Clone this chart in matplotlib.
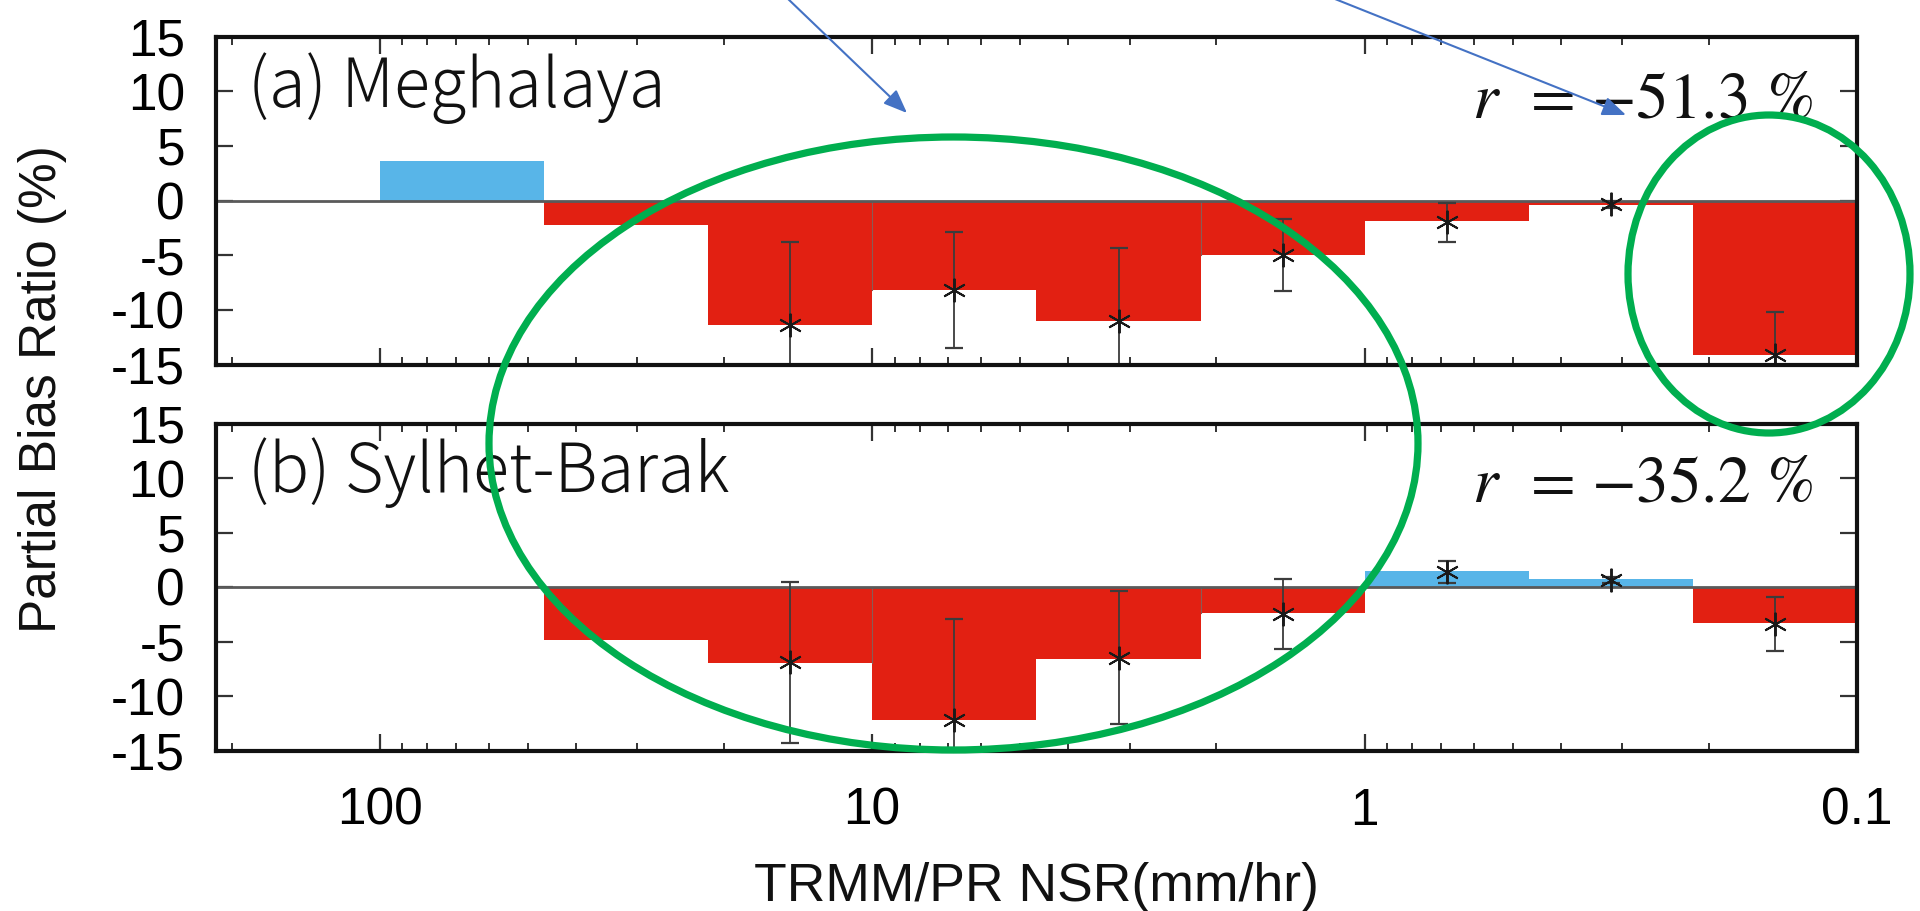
import numpy as np
import matplotlib
matplotlib.use("Agg")
import matplotlib.pyplot as plt
from matplotlib.patches import Ellipse, FancyArrowPatch
from matplotlib.ticker import FixedLocator, LogLocator, NullFormatter

# ---------------- data ----------------
bin_edges = [100, 46.4, 21.5, 10, 4.64, 2.15, 1.0, 0.464, 0.215, 0.1]

meg_bar = [3.6, -2.2, -11.4, -8.2, -11.0, -5.0, -1.9, -0.45, -14.1]
meg_pt = [np.nan, np.nan, -11.4, -8.2, -11.0, -5.0, -2.0, -0.35, -14.1]
meg_err = [np.nan, np.nan, 7.6, 5.3, 6.7, 3.3, 1.8, 0.3, 3.9]

syl_bar = [0.0, -4.9, -7.0, -12.2, -6.6, -2.4, 1.5, 0.7, -3.3]
syl_pt = [np.nan, np.nan, -6.9, -12.2, -6.5, -2.5, 1.4, 0.65, -3.4]
syl_err = [np.nan, np.nan, 7.4, 9.3, 6.1, 3.2, 1.0, 0.3, 2.5]

panel_titles = ["(a) Meghalaya", "(b) Sylhet-Barak"]
r_texts = ["$r$  = \u221251.3 %", "$r$  = \u221235.2 %"]

xticks = [100, 10, 1, 0.1]
xticklabels = ["100", "10", "1", "0.1"]
yticks = [-15, -10, -5, 0, 5, 10, 15]
yticklabels = ["-15", "-10", "-5", "0", "5", "10", "15"]

sep_edges = [3, 5]  # bin-edge indices where a faint separator is visible

# ---------------- style ----------------
plt.rcParams["font.family"] = ["Liberation Sans", "DejaVu Sans"]
plt.rcParams["mathtext.fontset"] = "stix"
plt.rcParams["axes.unicode_minus"] = False

RED = "#E22012"
BLUE = "#58B5E8"
GREEN = "#00AE4F"
ARROW = "#4472C4"

W, H = 1920, 911
fig = plt.figure(figsize=(W / 100, H / 100), dpi=100)


def fx(px):
    return px / W


def fy(py):
    return 1 - py / H


ax_left, ax_right = 215.6, 1857
panels_px = [(36.5, 364.5), (423.5, 750.5)]

lefts = np.array(bin_edges[:-1])
rights = np.array(bin_edges[1:])
centers = np.sqrt(lefts * rights)

datasets = [(meg_bar, meg_pt, meg_err), (syl_bar, syl_pt, syl_err)]
axes = []
for k, ((top, bot), (bars, pts, errs)) in enumerate(zip(panels_px, datasets)):
    ax = fig.add_axes([fx(ax_left), fy(bot), fx(ax_right) - fx(ax_left), (bot - top) / H])
    axes.append(ax)
    ax.set_xscale("log")
    bars = np.array(bars)
    cols = [BLUE if v > 0 else RED for v in bars]
    ax.bar(lefts, bars, width=rights - lefts, align="edge", color=cols,
           edgecolor="none", linewidth=0, zorder=2)
    # faint separators between adjacent bars
    for i in sep_edges:
        a, b = bars[i - 1], bars[i]
        if a * b > 0:
            lim = a if abs(a) < abs(b) else b
            ax.plot([bin_edges[i], bin_edges[i]], [0, lim], color="#8a5a55",
                    lw=0.8, zorder=2.5)
    ax.axhline(0, color="#5a5a5a", lw=2.0, zorder=3)
    ax.errorbar(centers, pts, yerr=errs, fmt="none", ecolor="#3c3c3c",
                elinewidth=1.3, capsize=6.5, capthick=1.6, zorder=4)
    ax.plot(centers, pts, linestyle="none", marker=(6, 2, 0), ms=17,
            mew=1.4, color="#1a1a1a", zorder=5)

    ax.set_xlim(10 ** (7 / 3), 0.1)
    ax.set_ylim(-15, 15)
    ax.xaxis.set_major_locator(FixedLocator(xticks))
    ax.xaxis.set_minor_locator(LogLocator(base=10, subs=np.arange(2, 10)))
    ax.xaxis.set_minor_formatter(NullFormatter())
    ax.set_yticks(yticks)
    ax.set_yticklabels(yticklabels)
    if k == 1:
        ax.set_xticklabels(xticklabels)
    else:
        ax.set_xticklabels([])
    ax.tick_params(axis="both", which="major", direction="in", length=12,
                   width=1.6, color="#333333", top=True, right=True,
                   labelsize=37)
    ax.tick_params(axis="x", which="minor", direction="in", length=5.5,
                   width=1.4, color="#333333", top=True, bottom=True)
    ax.tick_params(axis="y", which="major", pad=22)
    ax.tick_params(axis="x", which="major", pad=26)
    for sp in ax.spines.values():
        sp.set_linewidth(3.0)
        sp.set_color("#111111")
        sp.set_zorder(6)

# panel titles and r texts
title_base = [107, 492]
r_base = [117, 502]
for k in range(2):
    fig.text(fx(248), fy(title_base[k]), panel_titles[k],
             family=["Noto Sans CJK JP", "DejaVu Sans"], fontweight="light",
             fontsize=48, ha="left", va="baseline", color="#111111")
    fig.text(fx(1813), fy(r_base[k]), r_texts[k], fontsize=47,
             family=["STIXGeneral", "DejaVu Serif"],
             ha="right", va="baseline", color="#111111")

# axis labels
fig.text(fx(43), fy(389), "Partial Bias Ratio (%)", rotation=90,
         fontsize=37, ha="center", va="center", color="#111111")
fig.text(fx(1036), fy(901), "TRMM/PR NSR(mm/hr)", fontsize=38.5,
         ha="center", va="baseline", color="#111111")

# green ellipses
e1 = Ellipse((fx(953.5), fy(443.5)), 929 / W, 613 / H, transform=fig.transFigure,
             fill=False, edgecolor=GREEN, lw=5.2, zorder=10)
e2 = Ellipse((fx(1769), fy(274)), 282 / W, 318 / H, transform=fig.transFigure,
             fill=False, edgecolor=GREEN, lw=5.2, zorder=10)
fig.add_artist(e1)
fig.add_artist(e2)

# blue arrows
for (x0, y0, x1, y1) in [(786, -3, 907, 113), (1330, -3, 1626, 115)]:
    arr = FancyArrowPatch((fx(x0), fy(y0)), (fx(x1), fy(y1)),
                          transform=fig.transFigure,
                          arrowstyle="-|>,head_length=0.8,head_width=0.32",
                          mutation_scale=18, lw=1.5, color=ARROW, zorder=11,
                          shrinkA=0, shrinkB=0)
    fig.add_artist(arr)

fig.savefig("out.png", dpi=100)
